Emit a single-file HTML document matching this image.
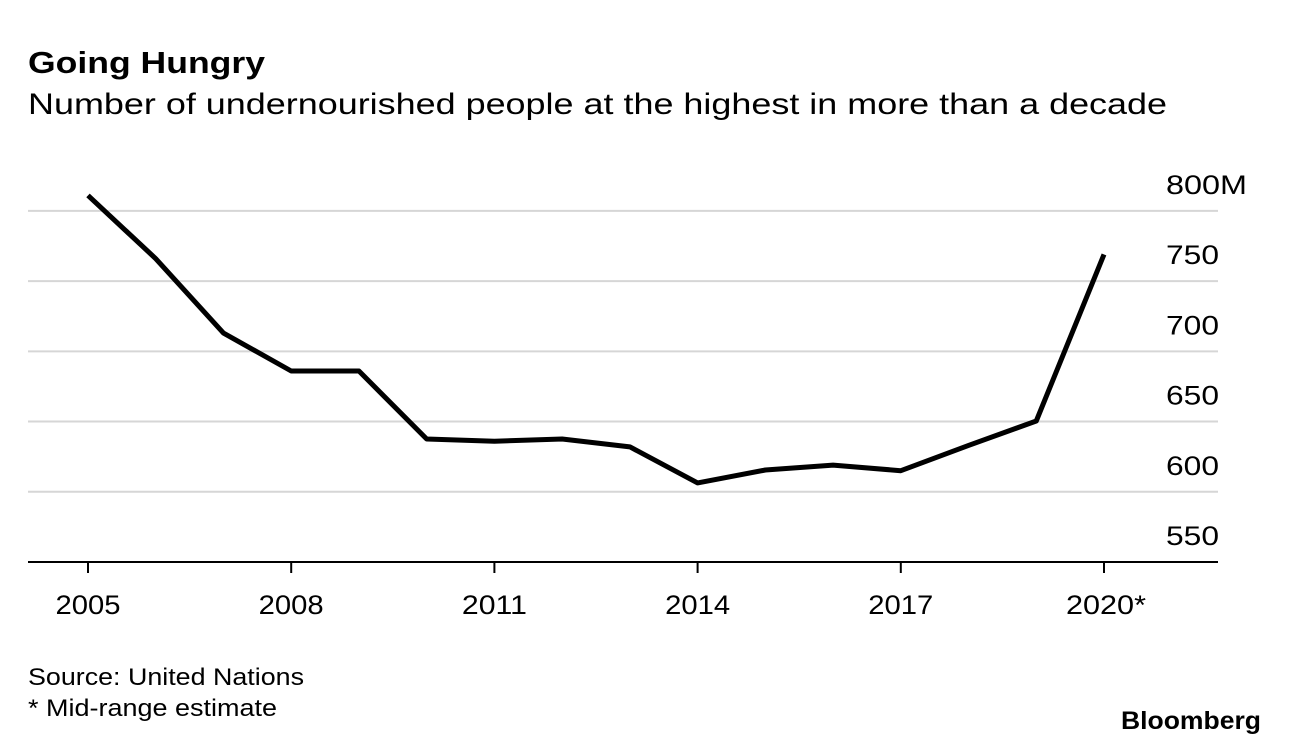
<!DOCTYPE html>
<html><head><meta charset="utf-8"><style>
body{margin:0;background:#fff;width:1289px;height:746px;overflow:hidden;font-family:"Liberation Sans",sans-serif;}
svg{position:absolute;left:0;top:0}
</style></head><body>
<svg width="1289" height="746">
<text x="28" y="73" font-size="31" font-weight="bold" fill="#000" textLength="237" lengthAdjust="spacingAndGlyphs">Going Hungry</text>
<text x="28" y="114" font-size="30" fill="#000" textLength="1139" lengthAdjust="spacingAndGlyphs">Number of undernourished people at the highest in more than a decade</text>
<g id="grid"></g>
<g id="xaxis"></g>
<path id="line" fill="none" stroke="#000" stroke-width="5" stroke-linejoin="round"/>
<text x="28" y="685" font-size="24" fill="#000" textLength="276" lengthAdjust="spacingAndGlyphs">Source: United Nations</text>
<text x="28" y="716" font-size="24" fill="#000" textLength="249" lengthAdjust="spacingAndGlyphs">* Mid-range estimate</text>
<text x="1121" y="729" font-size="25" font-weight="bold" fill="#000" textLength="140" lengthAdjust="spacingAndGlyphs">Bloomberg</text>
</svg>
<script>
const years=[2005,2006,2007,2008,2009,2010,2011,2012,2013,2014,2015,2016,2017,2018,2019,2020];
const values=[811,766,713,686,686,637.6,636,637.6,632,606.3,615.5,619,615,633,650.4,769];
const yTicks=[550,600,650,700,750,800];
const yTickLabels=["550","600","650","700","750","800M"];
const xTicks=[2005,2008,2011,2014,2017,2020];
const xTickLabels=["2005","2008","2011","2014","2017","2020*"];
const NS="http://www.w3.org/2000/svg";
function X(y){return 88+(y-2005)*(1104-88)/15;}
function Y(v){return 562-(v-550)*1.4044;}
const grid=document.getElementById('grid');
yTicks.forEach((t,i)=>{
  const l=document.createElementNS(NS,'line');
  l.setAttribute('x1',28);l.setAttribute('x2',1218);
  l.setAttribute('y1',Y(t));l.setAttribute('y2',Y(t));
  l.setAttribute('stroke',i==0?'#000':'#d6d6d6');l.setAttribute('stroke-width',2);
  
  
  grid.appendChild(l);
  const tx=document.createElementNS(NS,'text');
  tx.setAttribute('x',1166);tx.setAttribute('y',Y(t)-17);
  tx.setAttribute('font-size','27');
  tx.setAttribute('textLength',yTickLabels[i].length==4?81:53);
  tx.setAttribute('lengthAdjust','spacingAndGlyphs');
  tx.textContent=yTickLabels[i];
  
  
  grid.appendChild(tx);
});
const xa=document.getElementById('xaxis');
xTicks.forEach((t,i)=>{
  const l=document.createElementNS(NS,'line');
  l.setAttribute('x1',X(t));l.setAttribute('x2',X(t));
  l.setAttribute('y1',562);l.setAttribute('y2',573);
  l.setAttribute('stroke','#000');l.setAttribute('stroke-width',2);
  
  
  xa.appendChild(l);
  const tx=document.createElementNS(NS,'text');
  const w=i==5?80:65;
  tx.setAttribute('x',i==5?X(t)-38:X(t)-w/2);tx.setAttribute('y',614);
  tx.setAttribute('font-size','27');
  tx.setAttribute('textLength',w);
  tx.setAttribute('lengthAdjust','spacingAndGlyphs');
  tx.textContent=xTickLabels[i];
  
  
  xa.appendChild(tx);
});
document.getElementById('line').setAttribute('d',years.map((y,i)=>(i?'L':'M')+X(y)+','+Y(values[i])).join(''));
</script>
</body></html>
